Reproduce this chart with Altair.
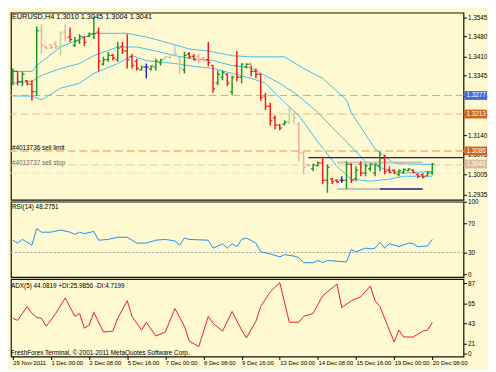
import json
import altair as alt
import pandas as pd

# ---------------- data ----------------
IDX = list(range(89))
OPENS = [1.3330, 1.3360, 1.3325, 1.3328, 1.3316, 1.3290, 1.3500, 1.3445, 1.3450, 1.3455,
         1.3445, 1.3495, 1.3478, 1.3450, 1.3465, 1.3478, 1.3480, 1.3488, 1.3495, 1.3385,
         1.3400, 1.3415, 1.3400, 1.3445, 1.3430, 1.3410, 1.3395, 1.3365, 1.3375, 1.3368,
         1.3375, 1.3390, 1.3404, 1.3408, 1.3420, 1.3405, 1.3365, 1.3420, 1.3412, 1.3410,
         1.3405, 1.3400, 1.3380, 1.3320, 1.3340, 1.3350, 1.3290, 1.3380, 1.3340, 1.3375,
         1.3385, 1.3360, 1.3350, 1.3275, 1.3240, 1.3200, 1.3175, 1.3178, 1.3185, 1.3190,
         1.3180, 1.3080, 1.3038, 1.3025, 1.3035, 1.3045, 1.2985, 1.2990, 1.2985, 1.2985,
         1.2985, 1.3040, 1.2990, 1.3040, 1.3010, 1.3025, 1.3010, 1.3035, 1.3060, 1.3020,
         1.3020, 1.3005, 1.3012, 1.3018, 1.3020, 1.3005, 1.3005, 1.3000, 1.3010]
HIGHS = [1.3370, 1.3360, 1.3360, 1.3329, 1.3329, 1.3515, 1.3521, 1.3447, 1.3454, 1.3464,
         1.3498, 1.3521, 1.3511, 1.3478, 1.3488, 1.3481, 1.3494, 1.3548, 1.3511, 1.3410,
         1.3427, 1.3420, 1.3461, 1.3461, 1.3488, 1.3420, 1.3403, 1.3380, 1.3387, 1.3380,
         1.3403, 1.3403, 1.3414, 1.3420, 1.3454, 1.3410, 1.3427, 1.3427, 1.3420, 1.3420,
         1.3410, 1.3461, 1.3380, 1.3363, 1.3363, 1.3353, 1.3346, 1.3430, 1.3387, 1.3387,
         1.3380, 1.3370, 1.3353, 1.3286, 1.3252, 1.3208, 1.3178, 1.3191, 1.3235, 1.3218,
         1.3184, 1.3083, 1.3040, 1.3043, 1.3050, 1.3066, 1.3040, 1.2992, 1.2989, 1.2999,
         1.3050, 1.3043, 1.3033, 1.3050, 1.3043, 1.3043, 1.3043, 1.3083, 1.3073, 1.3033,
         1.3023, 1.3023, 1.3026, 1.3026, 1.3023, 1.3009, 1.3009, 1.3016, 1.3045]
LOWS = [1.3312, 1.3312, 1.3309, 1.3312, 1.3259, 1.3275, 1.3420, 1.3437, 1.3437, 1.3437,
        1.3414, 1.3464, 1.3461, 1.3444, 1.3454, 1.3447, 1.3478, 1.3471, 1.3360, 1.3380,
        1.3393, 1.3397, 1.3393, 1.3420, 1.3370, 1.3370, 1.3363, 1.3363, 1.3336, 1.3363,
        1.3363, 1.3380, 1.3403, 1.3403, 1.3414, 1.3353, 1.3353, 1.3403, 1.3397, 1.3387,
        1.3393, 1.3377, 1.3286, 1.3312, 1.3329, 1.3309, 1.3279, 1.3326, 1.3319, 1.3370,
        1.3343, 1.3336, 1.3259, 1.3228, 1.3174, 1.3161, 1.3157, 1.3174, 1.3178, 1.3178,
        1.3050, 1.3006, 1.3033, 1.3016, 1.3033, 1.2972, 1.2942, 1.2972, 1.2976, 1.2976,
        1.2955, 1.2976, 1.2982, 1.2999, 1.2999, 1.3016, 1.2999, 1.3016, 1.3006, 1.3009,
        1.3006, 1.2999, 1.3009, 1.3016, 1.3009, 1.2992, 1.2992, 1.2999, 1.3004]
CLOSES = [1.3360, 1.3325, 1.3350, 1.3316, 1.3290, 1.3500, 1.3450, 1.3440, 1.3442, 1.3445,
          1.3490, 1.3475, 1.3470, 1.3465, 1.3480, 1.3460, 1.3488, 1.3490, 1.3395, 1.3400,
          1.3415, 1.3405, 1.3440, 1.3430, 1.3400, 1.3380, 1.3370, 1.3375, 1.3375, 1.3378,
          1.3395, 1.3400, 1.3410, 1.3415, 1.3420, 1.3370, 1.3415, 1.3410, 1.3400, 1.3395,
          1.3398, 1.3390, 1.3300, 1.3350, 1.3355, 1.3320, 1.3340, 1.3340, 1.3385, 1.3385,
          1.3360, 1.3350, 1.3270, 1.3240, 1.3190, 1.3175, 1.3165, 1.3185, 1.3225, 1.3200,
          1.3080, 1.3030, 1.3035, 1.3038, 1.3045, 1.2985, 1.3030, 1.2980, 1.2980, 1.2985,
          1.3040, 1.2985, 1.3020, 1.3010, 1.3035, 1.3040, 1.3040, 1.3060, 1.3015, 1.3012,
          1.3010, 1.3018, 1.3022, 1.3024, 1.3012, 1.2998, 1.2996, 1.3010, 1.3041]

UPPER_I = [0, 4, 5, 10, 13, 17, 24, 28, 32, 37, 41, 46, 50, 57, 61, 65, 70, 71, 76, 80, 86, 88]
UPPER_V = [1.3360, 1.3360, 1.3380, 1.3444, 1.3464, 1.3491, 1.3491, 1.3478, 1.3461, 1.3437, 1.3430,
           1.3414, 1.3410, 1.3410, 1.3370, 1.3336, 1.3262, 1.3218, 1.3093, 1.3043, 1.3040, 1.3040]
MIDDLE_I = [0, 4, 6, 10, 14, 17, 22, 26, 30, 34, 38, 42, 46, 50, 52, 56, 60, 64, 68, 74, 78, 82, 88]
MIDDLE_V = [1.3319, 1.3326, 1.3346, 1.3370, 1.3387, 1.3414, 1.3444, 1.3444, 1.3430, 1.3414, 1.3403,
            1.3397, 1.3380, 1.3373, 1.3353, 1.3319, 1.3275, 1.3218, 1.3151, 1.3050, 1.3023, 1.3009, 1.3016]
LOWER_I = [0, 4, 6, 10, 14, 17, 22, 25, 28, 34, 38, 42, 46, 50, 53, 56, 60, 64, 68, 71, 75, 79, 82, 88]
LOWER_V = [1.3275, 1.3275, 1.3262, 1.3302, 1.3319, 1.3353, 1.3387, 1.3414, 1.3397, 1.3387, 1.3377,
           1.3370, 1.3353, 1.3336, 1.3319, 1.3269, 1.3208, 1.3117, 1.3033, 1.2989, 1.2982, 1.2989,
           1.2999, 1.2999]

RSI_I = [0, 1, 2, 4, 5, 6, 8, 10, 12, 13, 14, 15, 17, 18, 20, 22, 24, 26, 28, 30, 32, 34, 35, 36,
         37, 41, 42, 44, 45, 46, 47, 48, 49, 51, 52, 54, 56, 57, 59, 60, 61, 63, 64, 65, 66, 70,
         71, 72, 74, 75, 76, 77, 78, 79, 81, 83, 84, 85, 87, 88]
RSI_V = [47, 43, 48, 40, 63, 58, 58, 61, 58, 55, 58, 56, 59, 47, 48, 51, 51, 43, 43, 47, 48, 46, 40, 50,
         48, 47, 36, 42, 36, 42, 38, 48, 50, 43, 31, 28, 24, 27, 25, 23, 16, 16, 19, 16, 19, 17,
         34, 31, 36, 35, 36, 44, 36, 42, 38, 43, 42, 38, 39, 48.2751]

ADX_I = [0, 1, 3, 4, 5, 6, 7, 9, 11, 13, 14, 15, 16, 17, 19, 21, 22, 24, 25, 27, 28, 30, 32, 34,
         36, 37, 39, 41, 42, 44, 46, 48, 49, 51, 52, 54, 56, 58, 60, 61, 63, 65, 68, 69, 71, 73,
         75, 76, 77, 80, 81, 82, 84, 86, 87, 88]
ADX_V = [48.7, 46.5, 61.4, 54.0, 49.7, 48.7, 40.1, 54.0, 71.0, 50.8, 54.0, 38.0, 41.2, 55.1, 33.8,
         34.8, 48.7, 67.8, 50.8, 35.9, 44.4, 29.5, 33.8, 59.3, 40.1, 24.2, 17.8, 50.8, 43.3, 34.8,
         56.1, 35.9, 27.4, 45.5, 61.4, 77.4, 87.5, 44.4, 44.4, 50.8, 54.0, 73.1, 86.0, 60.4, 67.8,
         72.1, 83.8, 67.8, 61.4, 23.1, 35.9, 28.4, 28.4, 34.8, 35.9, 44.0819]

PRICE_TICKS = [1.3545, 1.3480, 1.3410, 1.3345, 1.3275, 1.3210, 1.3140, 1.3075, 1.3005, 1.2935]
RSI_TICKS = [100, 70, 30, 0]
ADX_TICKS = [87, 65, 43, 21, 10]
ADX_TICK_TEXT = ["87", "65", "43", "21", "0"]
X_TICKS = [0, 8, 16, 24, 32, 40, 48, 56, 64, 72, 80, 88]
X_LABELS = ["29 Nov 2011", "1 Dec 00:00", "2 Dec 08:00", "5 Dec 16:00", "7 Dec 00:00",
            "8 Dec 08:00", "9 Dec 16:00", "13 Dec 00:00", "14 Dec 08:00", "15 Dec 16:00",
            "19 Dec 00:00", "20 Dec 08:00"]

LEVELS = [1.3277, 1.3213, 1.3086, 1.3038, 1.3010]
BOX_PRICES = [1.3277, 1.3213, 1.3086, 1.3041]
BOX_TEXT = ["1.3277", "1.3213", "1.3086", "1.3041"]

SEG_START = [62, 68, 68, 77]
SEG_END = [94.5, 86, 77, 86]
SEG_PRICE = [1.3063, 1.3046, 1.2955, 1.2955]

TITLE = "EURUSD,H4  1.3010 1.3045 1.3004 1.3041"
ORDER1 = "#4013736 sell limit"
ORDER2 = "#4013737 sell stop"
RSI_TITLE = "RSI(14) 48.2751"
ADX_TITLE = "ADX(5) 44.0819 +DI:25.9856 -DI:4.7199"
COPYRIGHT = "FreshForex Terminal, \u00a9 2001-2011 MetaQuotes Software Corp."

# ---------------- style ----------------
BG = "#FEF9D0"
FONT = "Liberation Sans"
FS = 6.5
W = 462
H1, H2, H3 = 191, 77, 79
FADED = [6, 7, 8, 9, 10, 11, 32, 33, 34, 35, 39, 40, 58, 59, 60, 61, 62]
LEVEL_COLORS = ["#9DB1EE", "#F3B487", "#F0C88E", "#D6D0C2", "#E9E3CF"]
LEVEL_WIDTHS = [1, 1, 2, 1, 1]
BOX_COLORS = ["#3F6BD8", "#D0661E", "#D0661E", "#D8BC9C"]
SEG_COLORS = ["#1C1C8C", "#C4C4C4", "#C4C4C4", "#1C1C8C"]
SEG_WIDTHS = [1.3, 2, 2, 1.5]
BAND_COLOR = "#3EC0EE"

xscale = alt.Scale(domain=[-0.4, 94.55], nice=False, zero=False)
pscale = alt.Scale(domain=[1.2918, 1.3562], nice=False, zero=False)
rscale = alt.Scale(domain=[-4.0, 100], nice=False, zero=False)
ascale = alt.Scale(domain=[7.2, 91.3], nice=False, zero=False)

NOX = alt.X("i:Q", scale=xscale, axis=None)


def right_axis(values, fmt=None, expr=None):
    kw = dict(orient="right", values=values, tickSize=3, labelPadding=1, grid=False,
              domain=False, title=None, labelFont=FONT, labelFontSize=FS,
              labelColor="#000000", tickColor="#000000")
    if fmt:
        kw["format"] = fmt
    if expr:
        kw["labelExpr"] = expr
    return alt.Axis(**kw)


PAXIS = right_axis(PRICE_TICKS, fmt=".4f")
RAXIS = right_axis(RSI_TICKS)


def text_at(txt, x, y, color="#000000", size=FS):
    return alt.Chart(pd.DataFrame({"t": [txt]})).mark_text(
        align="left", baseline="middle", font=FONT, fontSize=size, color=color
    ).encode(x=alt.value(x), y=alt.value(y), text="t:N")


# ---------------- main panel ----------------
df = pd.DataFrame({"i": IDX, "o": OPENS, "h": HIGHS, "l": LOWS, "c": CLOSES})
kind_expr = ("(datum.c > datum.o ? 'up' : (datum.c < datum.o ? 'down' : 'doji'))"
             " + (indexof(%s, datum.i) >= 0 ? '_f' : '')" % json.dumps(FADED))
kind_color = alt.Color("kind:N", legend=None, scale=alt.Scale(
    domain=["up", "down", "doji", "up_f", "down_f", "doji_f"],
    range=["#1E961E", "#EE1C1C", "#2424D8", "#B4D7A0", "#F4ACA2", "#B9C6E4"]))
bb = alt.Chart(df).transform_calculate(kind=kind_expr, xl="datum.i - 0.45", xr="datum.i + 0.45")

layers = []
for p, col, sw in zip(LEVELS, LEVEL_COLORS, LEVEL_WIDTHS):
    layers.append(alt.Chart(pd.DataFrame({"p": [p]})).mark_rule(
        color=col, strokeWidth=sw, strokeDash=[8, 4]).encode(
        y=alt.Y("p:Q", scale=pscale, axis=PAXIS)))

bands = pd.concat([
    pd.DataFrame({"i": UPPER_I, "v": UPPER_V, "b": "upper"}),
    pd.DataFrame({"i": MIDDLE_I, "v": MIDDLE_V, "b": "middle"}),
    pd.DataFrame({"i": LOWER_I, "v": LOWER_V, "b": "lower"}),
])
layers.append(alt.Chart(bands).mark_line(color=BAND_COLOR, strokeWidth=1).encode(
    x=NOX, y=alt.Y("v:Q", scale=pscale, axis=PAXIS), detail="b:N"))

for s, e, p, col, sw in zip(SEG_START, SEG_END, SEG_PRICE, SEG_COLORS, SEG_WIDTHS):
    layers.append(alt.Chart(pd.DataFrame({"s": [s], "e": [e], "p": [p]})).mark_rule(
        color=col, strokeWidth=sw).encode(
        x=alt.X("s:Q", scale=xscale, axis=None), x2="e:Q",
        y=alt.Y("p:Q", scale=pscale, axis=PAXIS)))

layers.append(bb.mark_rule(strokeWidth=1.5).encode(
    x=NOX, y=alt.Y("l:Q", scale=pscale, axis=PAXIS), y2="h:Q", color=kind_color))
layers.append(bb.mark_rule(strokeWidth=1.3).encode(
    x=alt.X("xl:Q", scale=xscale, axis=None), x2="i:Q",
    y=alt.Y("o:Q", scale=pscale, axis=PAXIS), color=kind_color))
layers.append(bb.mark_rule(strokeWidth=1.3).encode(
    x=alt.X("i:Q", scale=xscale, axis=None), x2="xr:Q",
    y=alt.Y("c:Q", scale=pscale, axis=PAXIS), color=kind_color))

boxes = pd.DataFrame({"p": BOX_PRICES, "t": BOX_TEXT, "col": BOX_COLORS})
layers.append(alt.Chart(boxes).mark_rect(width=23, height=9).encode(
    x=alt.value(W + 12.5), y=alt.Y("p:Q", scale=pscale, axis=PAXIS),
    color=alt.Color("col:N", scale=None)))
layers.append(alt.Chart(boxes).mark_text(
    align="left", baseline="middle", font=FONT, fontSize=FS, color="#FFFFFF").encode(
    x=alt.value(W + 3), y=alt.Y("p:Q", scale=pscale, axis=PAXIS), text="t:N"))

layers.append(text_at(TITLE, 1, 4, size=7.5))
layers.append(text_at(ORDER1, 1, 138))
layers.append(text_at(ORDER2, 1, 154, "#6E6A5E"))

main = alt.layer(*layers).properties(width=W, height=H1)

# ---------------- RSI panel ----------------
rsi_df = pd.DataFrame({"i": RSI_I, "v": RSI_V})
rsi = alt.layer(
    alt.Chart(pd.DataFrame({"p": [30]})).mark_rule(color="#A9A79A", strokeDash=[2, 2]).encode(
        y=alt.Y("p:Q", scale=rscale, axis=RAXIS)),
    alt.Chart(rsi_df).mark_line(color="#1E8EF0", strokeWidth=1).encode(
        x=NOX, y=alt.Y("v:Q", scale=rscale, axis=RAXIS)),
    text_at(RSI_TITLE, 1, 5),
).properties(width=W, height=H2)

# ---------------- ADX panel ----------------
adx_df = pd.DataFrame({"i": ADX_I, "v": ADX_V})
adx_expr = "%s[indexof(%s, datum.value)]" % (json.dumps(ADX_TICK_TEXT), json.dumps(ADX_TICKS))
x_expr = "%s[indexof(%s, datum.value)]" % (json.dumps(X_LABELS), json.dumps(X_TICKS))
adx = alt.layer(
    alt.Chart(adx_df).mark_line(color="#EE1C1C", strokeWidth=1).encode(
        x=alt.X("i:Q", scale=xscale, axis=alt.Axis(
            orient="bottom", values=X_TICKS, labelExpr=x_expr, tickSize=3, labelPadding=0,
            labelAlign="left", labelFont=FONT, labelFontSize=6, labelColor="#000000",
            tickColor="#000000", grid=False, domain=False, title=None, labelOverlap=False,
            labelFlush=False, labelBound=False)),
        y=alt.Y("v:Q", scale=ascale, axis=right_axis(ADX_TICKS, expr=adx_expr))),
    text_at(ADX_TITLE, 0, 7),
    text_at(COPYRIGHT, 0, 75),
).properties(width=W, height=H3)

chart = alt.vconcat(main, rsi, adx, spacing=2, bounds="flush").properties(
    padding={"left": 1, "top": 0, "right": 0, "bottom": 0}
).configure(background=BG).configure_view(stroke="#111111", strokeWidth=1.2)

chart.save("out.html", embed_options={"renderer": "svg", "actions": False})
